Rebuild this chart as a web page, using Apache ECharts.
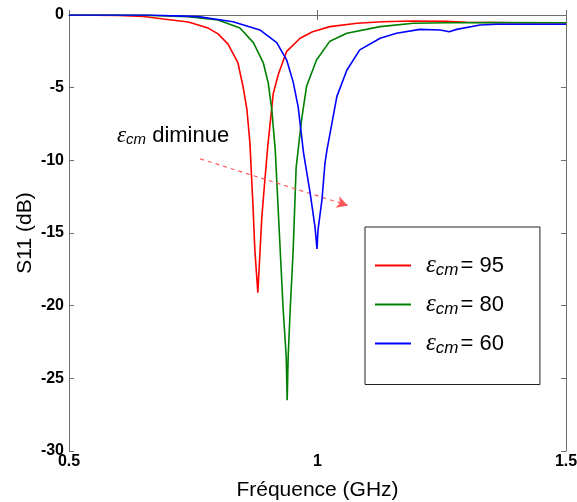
<!DOCTYPE html>
<html><head><meta charset="utf-8">
<script src="https://cdn.jsdelivr.net/npm/echarts@6/dist/echarts.min.js"></script>
<style>html,body{margin:0;padding:0;background:#fff}#c{width:577px;height:502px}</style>
</head><body><div id="c"></div>
<script>
// ---- data ----
const seriesLabels = ['95', '80', '60'];
const freqRed = [0.5, 0.6, 0.65, 0.69, 0.74, 0.78, 0.80, 0.82, 0.84, 0.85, 0.858, 0.864, 0.87, 0.874, 0.88, 0.884, 0.888, 0.894, 0.9, 0.911, 0.921, 0.938, 0.965, 0.99, 1.025, 1.08, 1.13, 1.19, 1.26, 1.3, 1.4, 1.5];
const s11Red  = [0, -0.03, -0.1, -0.28, -0.48, -0.9, -1.3, -2.0, -3.3, -4.9, -6.5, -8.8, -13, -16.2, -19.1, -16.5, -13.9, -11.4, -9.0, -5.4, -4.1, -2.5, -1.6, -1.15, -0.8, -0.57, -0.46, -0.41, -0.43, -0.5, -0.53, -0.53];
const freqGreen = [0.5, 0.6, 0.65, 0.74, 0.8, 0.844, 0.871, 0.891, 0.901, 0.908, 0.915, 0.925, 0.931, 0.937, 0.939, 0.941, 0.945, 0.951, 0.957, 0.968, 0.978, 0.998, 1.025, 1.059, 1.126, 1.193, 1.26, 1.35, 1.5];
const s11Green  = [0, 0, -0.02, -0.11, -0.34, -0.9, -1.9, -3.3, -4.7, -6.5, -9.3, -16.2, -20.3, -23.5, -26.5, -23.5, -20.3, -16.2, -10.5, -7.2, -4.9, -3.1, -1.8, -1.25, -0.8, -0.57, -0.53, -0.52, -0.53];
const freqBlue = [0.5, 0.66, 0.76, 0.83, 0.884, 0.918, 0.938, 0.951, 0.961, 0.972, 0.985, 0.995, 0.999, 1.001, 1.009, 1.015, 1.019, 1.039, 1.059, 1.085, 1.126, 1.159, 1.206, 1.247, 1.265, 1.28, 1.327, 1.36, 1.5];
const s11Blue  = [0, 0, -0.11, -0.46, -1.03, -1.9, -3.1, -4.6, -6.3, -9.5, -12.2, -14.6, -16.1, -14.8, -12.7, -10.2, -9.3, -5.6, -3.8, -2.4, -1.6, -1.25, -0.99, -1.03, -1.15, -0.99, -0.69, -0.64, -0.64];
const arrowFrom = [0.764, -9.9];
const arrowTo   = [1.061, -13.1];

const pairs = (xs, ys) => xs.map((x, i) => [x, ys[i]]);
const font = 'Liberation Sans, Arial, sans-serif';
const rich = {
  eps: {fontFamily: 'Liberation Serif, serif', fontStyle: 'italic', fontSize: 25, color: '#000', lineHeight: 26},
  sub: {fontFamily: font, fontStyle: 'italic', fontSize: 17, color: '#000', verticalAlign: 'bottom', lineHeight: 16, padding: [0, 2, 0, 0]},
  eq: {fontFamily: font, fontSize: 22, color: '#000', lineHeight: 26}
};

const chart = echarts.init(document.getElementById('c'), null, {renderer: 'canvas'});
const axisLine = {show: true, lineStyle: {color: '#6e6e6e', width: 1}};
const colors = ['#ff0000', '#008000', '#0000ff'];
const datasets = [pairs(freqRed, s11Red), pairs(freqGreen, s11Green), pairs(freqBlue, s11Blue)];
const tick = {show: true, inside: true, length: 5, lineStyle: {color: '#6e6e6e'}};

chart.setOption({
  animation: false,
  backgroundColor: '#fff',
  grid: {left: 69, right: 11, top: 15, bottom: 51, containLabel: false, outerBoundsMode: 'none'},
  xAxis: [{
    type: 'value', min: 0.5, max: 1.5, interval: 0.5,
    axisLine, splitLine: {show: false}, axisTick: tick,
    axisLabel: {color: '#000', fontSize: 16, fontWeight: 'bold', fontFamily: font, margin: 3},
    name: 'Fréquence (GHz)', nameLocation: 'middle', nameGap: 29, nameMoveOverlap: false,
    nameTextStyle: {color: '#000', fontSize: 21, fontFamily: font}
  }, {
    type: 'value', position: 'top', min: 0.5, max: 1.5, interval: 0.5,
    axisLine, splitLine: {show: false}, axisTick: tick,
    axisLabel: {show: false}
  }],
  yAxis: [{
    type: 'value', min: -30, max: 0, interval: 5,
    axisLine, splitLine: {show: false}, axisTick: tick,
    axisLabel: {color: '#000', fontSize: 16, fontWeight: 'bold', fontFamily: font, margin: 5},
    name: 'S11 (dB)', nameLocation: 'middle', nameGap: 33, nameMoveOverlap: false,
    nameTextStyle: {color: '#000', fontSize: 21, fontFamily: font}
  }, {
    type: 'value', position: 'right', min: -30, max: 0, interval: 5,
    axisLine, splitLine: {show: false}, axisTick: tick,
    axisLabel: {show: false}
  }],
  legend: {
    orient: 'vertical', left: 365, top: 227,
    padding: [26, 36, 28, 10],
    itemWidth: 36, itemHeight: 14, itemGap: 13.5,
    borderColor: '#222', borderWidth: 1, backgroundColor: '#fff',
    icon: 'path://M0,6h36v2h-36z',
    formatter: n => '{eps|ε}{sub|cm}{eq|= ' + n + '}',
    textStyle: {rich, padding: [0, 0, 0, 10]},
    data: seriesLabels
  },
  series: datasets.map((d, i) => ({
    name: seriesLabels[i], type: 'line', data: d, showSymbol: false,
    lineStyle: {color: colors[i], width: 1.6}, itemStyle: {color: colors[i]},
    z: 3 + i,
    markLine: i === 0 ? {
      silent: true, symbol: ['none', 'arrow'], symbolSize: [9, 11],
      label: {show: false},
      lineStyle: {type: [4, 4], color: '#ff5a5a', width: 1.2},
      data: [[{coord: arrowFrom}, {coord: arrowTo}]]
    } : undefined
  })),
  graphic: [{
    type: 'text', left: 117, top: 124,
    style: {
      text: '{eps|ε}{sub|cm}{eq| diminue}',
      rich: {
        eps: {fontFamily: 'Liberation Serif, serif', fontStyle: 'italic', fontSize: 23, lineHeight: 24, fill: '#000'},
        sub: {fontFamily: font, fontStyle: 'italic', fontSize: 15, verticalAlign: 'bottom', lineHeight: 14, fill: '#000'},
        eq: {fontFamily: font, fontSize: 22, lineHeight: 24, fill: '#000'}
      }
    }
  }]
});
</script></body></html>
